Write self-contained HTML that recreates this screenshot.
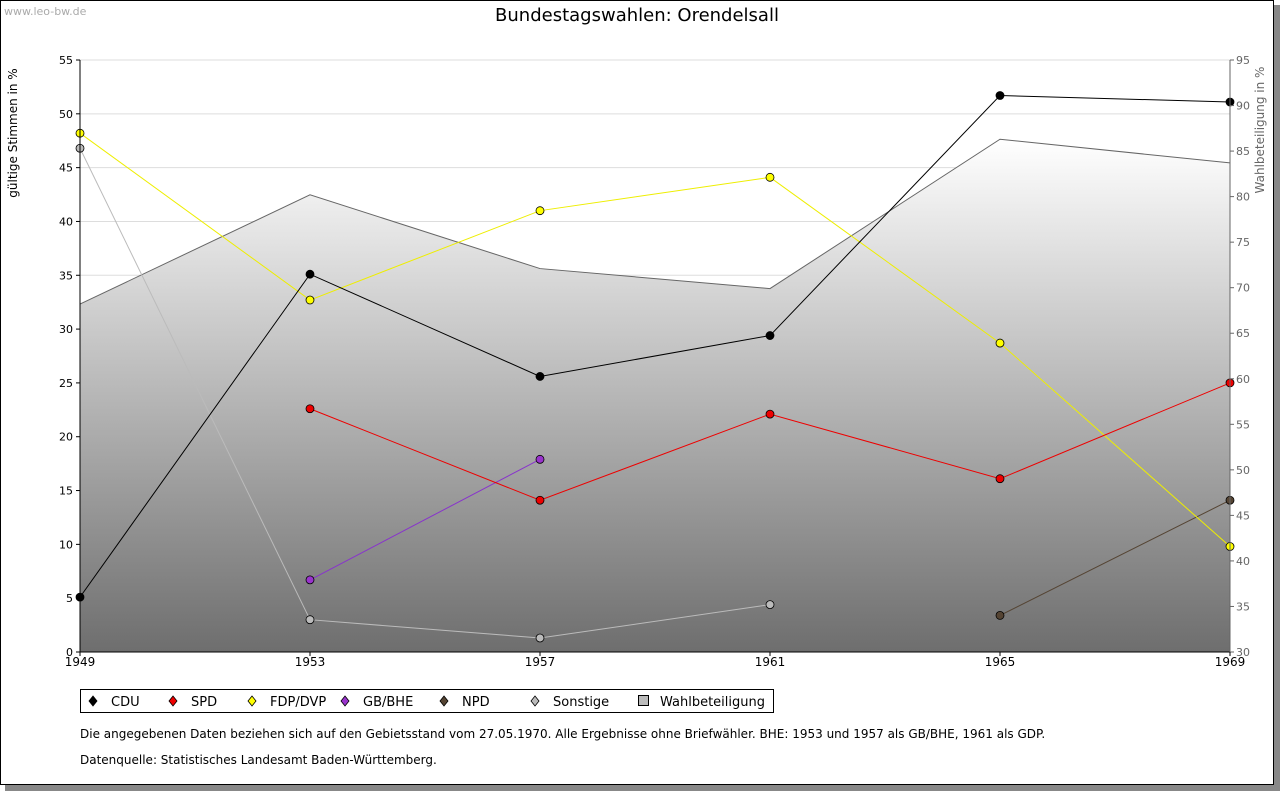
<!DOCTYPE html>
<html><head><meta charset="utf-8"><style>
body{margin:0;background:#fff;font-family:"DejaVu Sans","Liberation Sans",sans-serif;}
svg text{font-family:"DejaVu Sans","Liberation Sans",sans-serif;}
</style></head><body>
<svg id="c" width="1280" height="791" xmlns="http://www.w3.org/2000/svg">
<defs><linearGradient id="g" x1="0" y1="0" x2="0" y2="1"><stop offset="0" stop-color="#ffffff"/><stop offset="1" stop-color="#6e6e6e"/></linearGradient></defs>
<rect x="5" y="5" width="1275" height="786" fill="#888"/>
<rect x="0.5" y="0.5" width="1273" height="784" fill="#fff" stroke="#000"/>
<text x="4" y="15" font-size="11" fill="#aaa">www.leo-bw.de</text>
<text x="637" y="21" font-size="18" text-anchor="middle">Bundestagswahlen: Orendelsall</text>
<text transform="translate(17,133) rotate(-90)" font-size="12" text-anchor="middle">gültige Stimmen in %</text>
<text transform="translate(1264,130) rotate(-90)" font-size="12" text-anchor="middle" fill="#666">Wahlbeteiligung in %</text>
<g id="grid"></g><g id="area"></g><g id="lines"></g><g id="axes"></g>
<g>
<rect x="80.5" y="689.5" width="693" height="23" fill="#fff" stroke="#000"/>
<g id="leg"></g>
</g>
<text x="80" y="738" font-size="12">Die angegebenen Daten beziehen sich auf den Gebietsstand vom 27.05.1970. Alle Ergebnisse ohne Briefwähler. BHE: 1953 und 1957 als GB/BHE, 1961 als GDP.</text>
<text x="80" y="764" font-size="12">Datenquelle: Statistisches Landesamt Baden-Württemberg.</text>
</svg>
<script>
const years=[1949,1953,1957,1961,1965,1969];
const cdu=[5.1,35.1,25.6,29.4,51.7,51.1];
const spd=[null,22.6,14.1,22.1,16.1,25.0];
const fdp=[48.2,32.7,41.0,44.1,28.7,9.8];
const bhe=[null,6.7,17.9,null,null,null];
const npd=[null,null,null,null,3.4,14.1];
const sonst=[46.8,3.0,1.3,4.4,null,null];
const turnout=[68.2,80.2,72.1,69.9,86.3,83.7];
const leftTicks=[0,5,10,15,20,25,30,35,40,45,50,55];
const rightTicks=[30,35,40,45,50,55,60,65,70,75,80,85,90,95];
const X0=80,X1=1230,YT=60,YB=652;
const x=i=>X0+(X1-X0)*(years[i]-years[0])/(years[years.length-1]-years[0]);
const yl=v=>YB-(YB-YT)*v/55;
const yr=v=>YB-(YB-YT)*(v-30)/65;
const NS="http://www.w3.org/2000/svg";
function mk(p,t,a){const e=document.createElementNS(NS,t);for(const k in a)e.setAttribute(k,a[k]);document.getElementById(p).appendChild(e);return e;}
leftTicks.forEach(t=>{const l=mk('grid','line',{x1:X0,x2:X1,y1:yl(t),y2:yl(t),stroke:'#ddd'});


const tx=mk('axes','text',{x:73,y:yl(t)+4,'font-size':11,'text-anchor':'end'});tx.textContent=t;


mk('axes','line',{x1:X0-4,x2:X0,y1:yl(t),y2:yl(t),stroke:'#000'});});
rightTicks.forEach(t=>{const tx=mk('axes','text',{x:1236,y:yr(t)+4,'font-size':11,fill:'#666'});tx.textContent=t;


mk('axes','line',{x1:X1,x2:X1+4,y1:yr(t),y2:yr(t),stroke:'#666'});});
years.forEach((yv,i)=>{const tx=mk('axes','text',{x:x(i),y:666,'font-size':12,'text-anchor':'middle'});tx.textContent=yv;


mk('axes','line',{x1:x(i),x2:x(i),y1:YB,y2:YB+4,stroke:'#000'});});
mk('axes','line',{x1:X0,x2:X0,y1:YT,y2:YB,stroke:'#000'});
mk('axes','line',{x1:X0,x2:X1,y1:YB,y2:YB,stroke:'#000'});
mk('axes','line',{x1:X1,x2:X1,y1:YT,y2:YB,stroke:'#666'});
let d='M'+x(0)+','+YB;turnout.forEach((v,i)=>d+=' L'+x(i)+','+yr(v));d+=' L'+x(5)+','+YB+' Z';
const ar=mk('area','path',{d:d,fill:'url(#g)'});


let d2='';turnout.forEach((v,i)=>d2+=(i?' L':'M')+x(i)+','+yr(v));
mk('area','path',{d:d2,fill:'none',stroke:'#666'});
const series=[['cdu',cdu,'#000','#000'],['spd',spd,'#e00','#e00'],['fdp',fdp,'#ee0','#ff0'],['gb-bhe',bhe,'#8833cc','#93c'],['npd',npd,'#554433','#543'],['sonstige',sonst,'#bbb','#bbb']];
const order=[5,4,3,2,1,0];
order.forEach(k=>{const [n,arr,col,fc]=series[k];let p='';arr.forEach((v,i)=>{if(v!=null)p+=(p?' L':'M')+x(i)+','+yl(v);});
const ln=mk('lines','path',{d:p,fill:'none',stroke:col});


arr.forEach((v,i)=>{if(v==null)return;
const m=mk('lines','circle',{cx:x(i),cy:yl(v),r:4,fill:fc,stroke:'#000','stroke-width':0.8});

});});
const leg=[['CDU','#000',90],['SPD','#e00',170],['FDP/DVP','#ff0',249],['GB/BHE','#93c',342],['NPD','#543',441],['Sonstige','#bbb',532]];
leg.forEach(([t,c,lx])=>{mk('leg','path',{d:`M${lx+3},${696} L${lx+7},${701} L${lx+3},${706} L${lx-1},${701} Z`,fill:c,stroke:'#000','stroke-width':0.8});
const tx=mk('leg','text',{x:lx+21,y:706,'font-size':13});tx.textContent=t;

});
mk('leg','rect',{x:638.5,y:695.5,width:10,height:10,fill:'#bbb',stroke:'#000'});
const wt=mk('leg','text',{x:660,y:706,'font-size':13});wt.textContent='Wahlbeteiligung';


</script>
</body></html>
